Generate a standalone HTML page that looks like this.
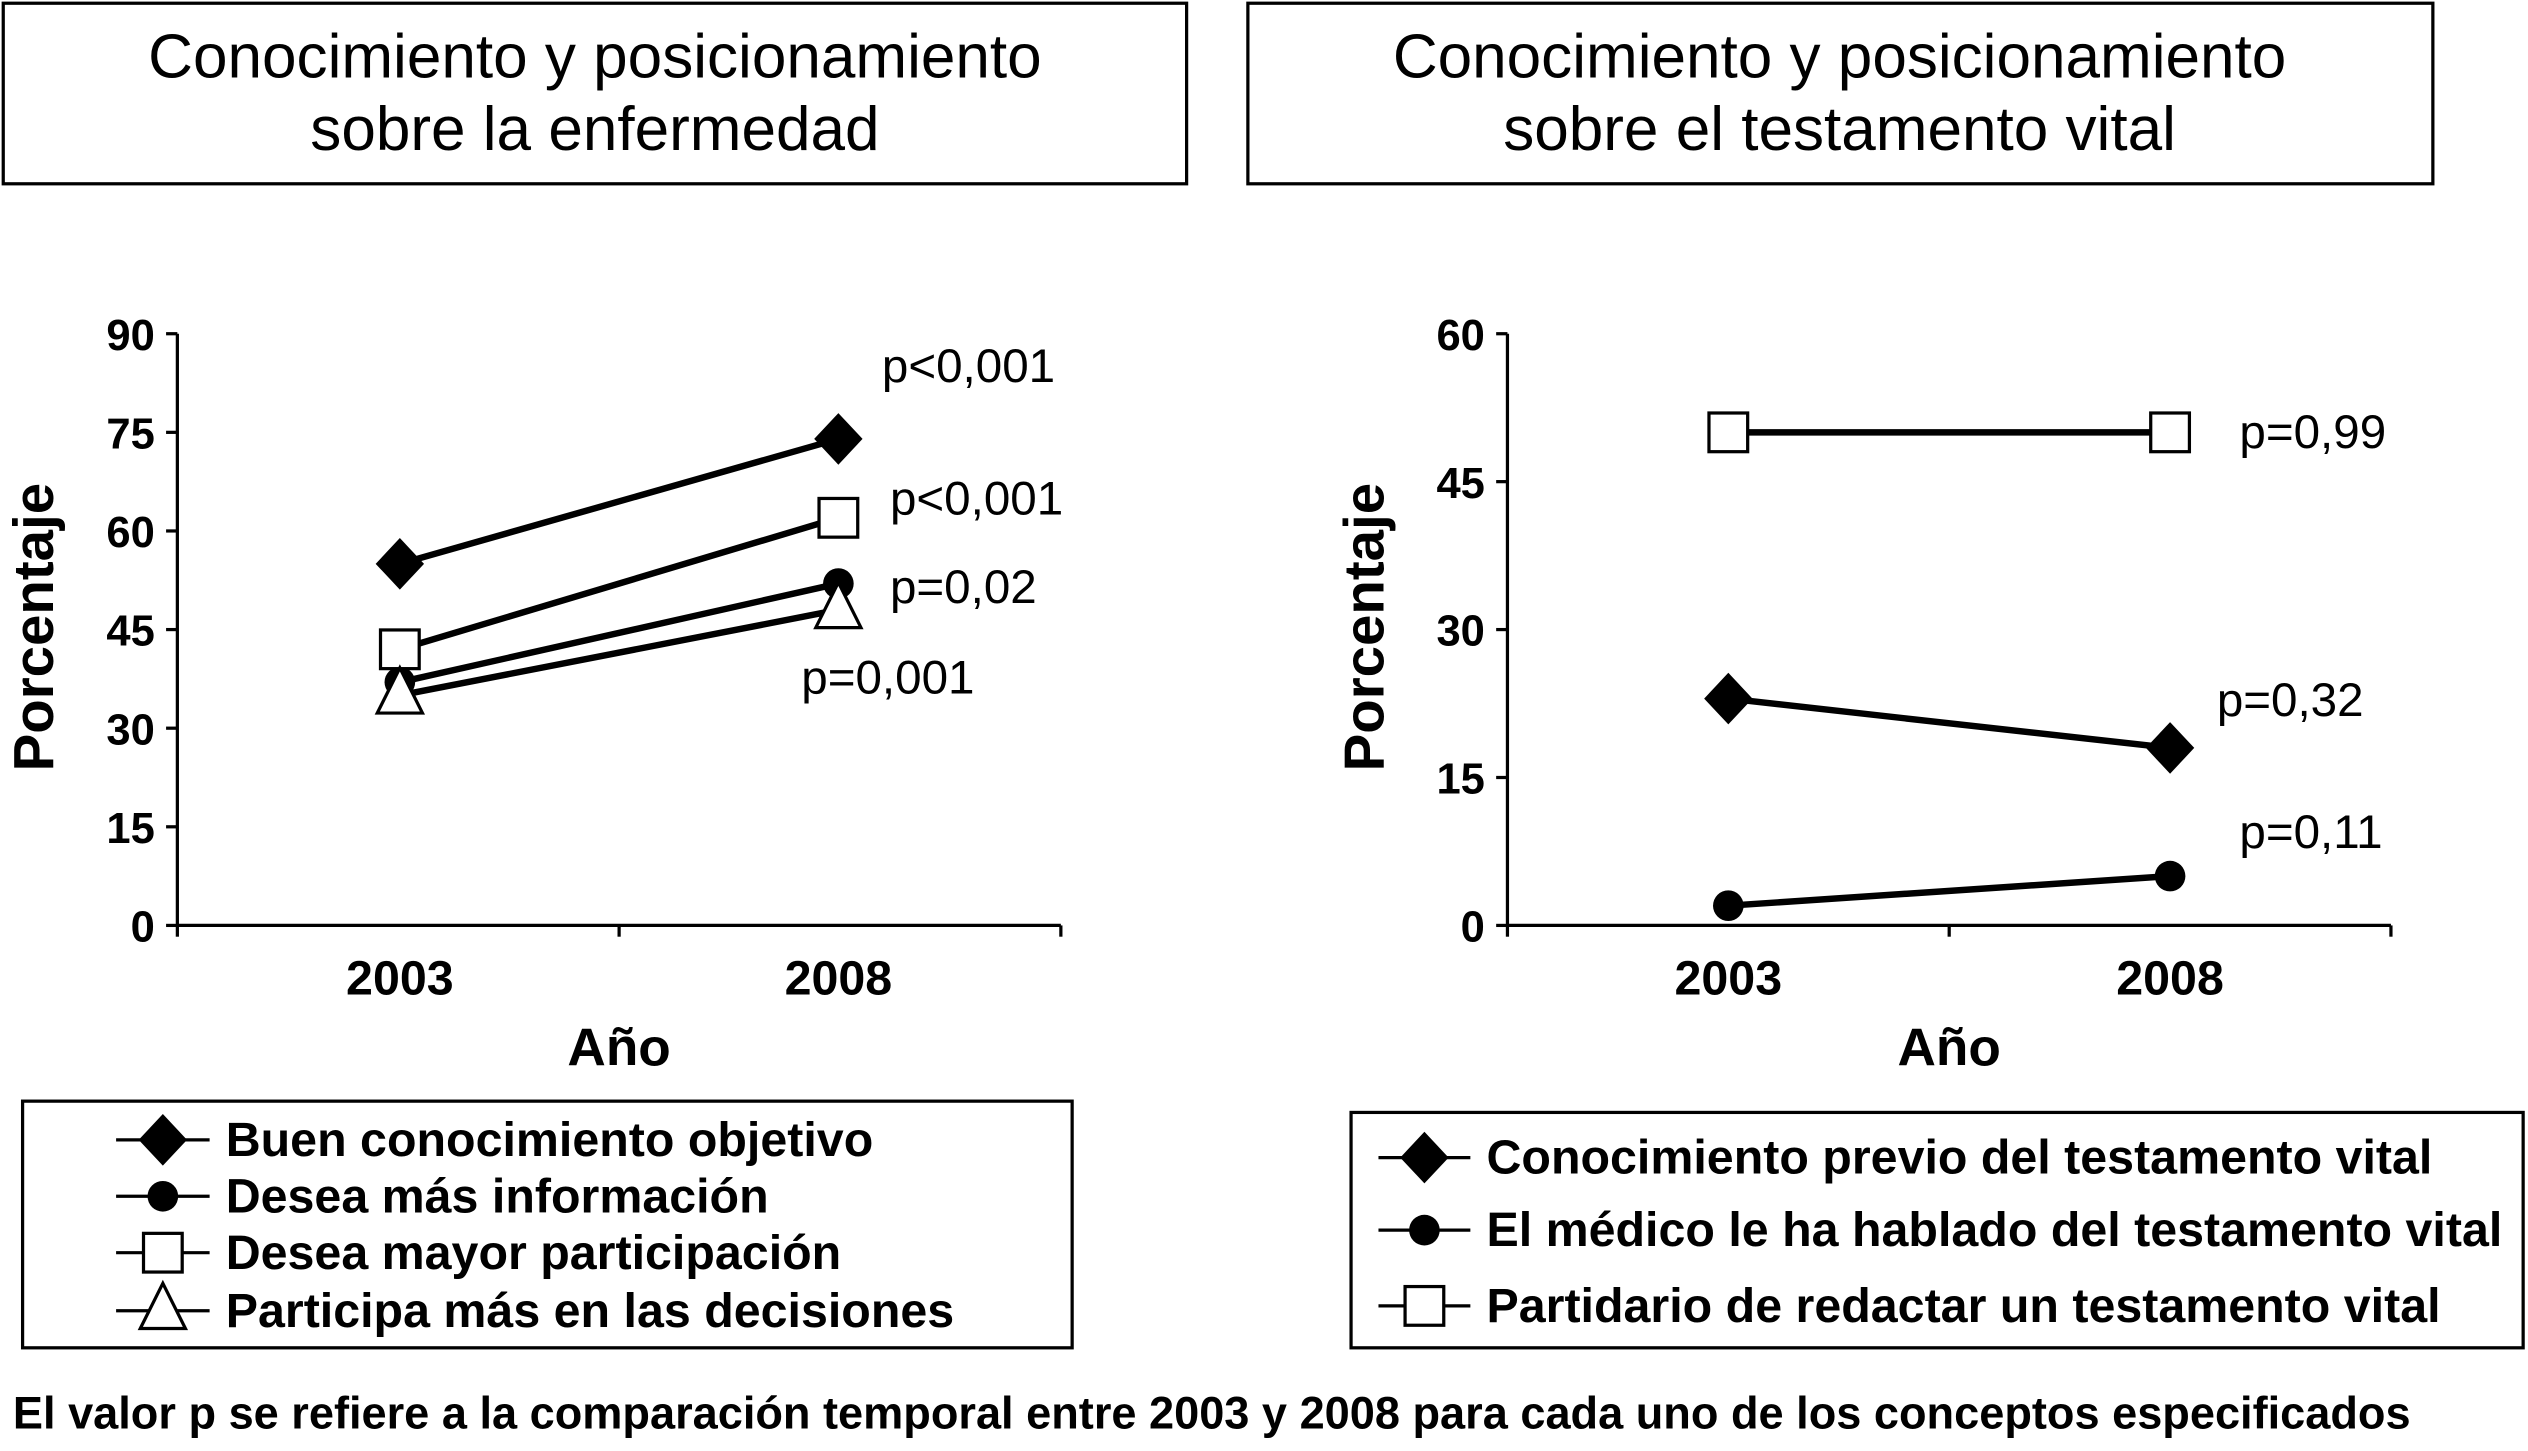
<!DOCTYPE html>
<html><head><meta charset="utf-8"><style>
html,body{margin:0;padding:0;background:#fff}
svg{display:block}
text{font-family:"Liberation Sans",Arial,sans-serif;fill:#000}
.b{font-weight:bold}
</style></head><body>
<svg id="s" width="2528" height="1451" viewBox="0 0 1568 900" xmlns="http://www.w3.org/2000/svg">
<rect x="2" y="2" width="734" height="112" fill="none" stroke="#000" stroke-width="2"/>
<text x="369" y="48" font-size="38.5" text-anchor="middle">Conocimiento y posicionamiento</text>
<text x="369" y="93" font-size="38.5" text-anchor="middle">sobre la enfermedad</text>
<rect x="774" y="2" width="735" height="112" fill="none" stroke="#000" stroke-width="2"/>
<text x="1141" y="48" font-size="38.5" text-anchor="middle">Conocimiento y posicionamiento</text>
<text x="1141" y="93" font-size="38.5" text-anchor="middle">sobre el testamento vital</text>
<g id="left"></g>
<g id="right"></g>
<rect x="14" y="683" width="651" height="153" fill="none" stroke="#000" stroke-width="2"/>
<rect x="838" y="690" width="727" height="146" fill="none" stroke="#000" stroke-width="2"/>
<text x="8" y="886" font-size="28" class="b">El valor p se refiere a la comparación temporal entre 2003 y 2008 para cada uno de los conceptos especificados</text>
</svg>
<script>
const NS="http://www.w3.org/2000/svg";
const years=["2003","2008"];
const leftTicks=[0,15,30,45,60,75,90];
const leftNames=["Buen conocimiento objetivo","Desea más información","Desea mayor participación","Participa más en las decisiones"];
const leftMarkers=["diamond","circle","square","triangle"];
const leftBuen=[55,74];
const leftInfo=[37,52];
const leftPart=[42,62];
const leftDecis=[35,48];
const leftP=["p<0,001","p=0,02","p<0,001","p=0,001"];
const rightTicks=[0,15,30,45,60];
const rightNames=["Conocimiento previo del testamento vital","El médico le ha hablado del testamento vital","Partidario de redactar un testamento vital"];
const rightMarkers=["diamond","circle","square"];
const rightCono=[23,18];
const rightMedico=[2,5];
const rightPartid=[50,50];
const rightP=["p=0,32","p=0,11","p=0,99"];

function el(parent,tag,attrs,txt){const e=document.createElementNS(NS,tag);for(const k in attrs)e.setAttribute(k,attrs[k]);if(txt!=null)e.textContent=txt;parent.appendChild(e);return e;}
function marker(g,type,x,y){
  let m;
  if(type==="diamond")m=el(g,"polygon",{points:`${x},${y-16} ${x+15},${y} ${x},${y+16} ${x-15},${y}`,fill:"#000"});
  else if(type==="circle")m=el(g,"circle",{cx:x,cy:y,r:9.5,fill:"#000"});
  else if(type==="square")m=el(g,"rect",{x:x-12,y:y-12,width:24,height:24,fill:"#fff",stroke:"#000","stroke-width":2});
  else m=el(g,"polygon",{points:`${x},${y-17} ${x+14},${y+11} ${x-14},${y+11}`,fill:"#fff",stroke:"#000","stroke-width":2});
  return m;
}
function chart(g,ax,series,markers,pLabels,pPos,ticks,ymax,catX,xEnd,midTick){
  const y0=574,y1=207;
  const Y=v=>y0-(v/ymax)*(y0-y1);
  const X=i=>catX[i];
  const yl=el(g,"line",{x1:ax,y1:y1,x2:ax,y2:y0,stroke:"#000","stroke-width":2});
  
  
  const xl=el(g,"line",{x1:ax,y1:y0,x2:xEnd,y2:y0,stroke:"#000","stroke-width":2});
  
  
  ticks.forEach(t=>{
    el(g,"line",{x1:ax-7,y1:Y(t),x2:ax,y2:Y(t),stroke:"#000","stroke-width":2});
    const tx=el(g,"text",{x:ax-14,y:Y(t)+10,"font-size":27,"text-anchor":"end",class:"b"},String(t));
    
    
  });
  [ax,midTick,xEnd].forEach(x=>el(g,"line",{x1:x,y1:y0,x2:x,y2:y0+7,stroke:"#000","stroke-width":2}));
  years.forEach((yr,i)=>{
    const tx=el(g,"text",{x:X(i),y:617,"font-size":30,"text-anchor":"middle",class:"b"},yr);
    
    
  });
  const xt=el(g,"text",{x:(ax+xEnd)/2,y:661,"font-size":33,"text-anchor":"middle",class:"b"},"Año");
  
  
  const yt=el(g,"text",{x:0,y:0,"font-size":35,"text-anchor":"middle",class:"b",transform:`translate(${ax-77},389) rotate(-90)`},"Porcentaje");
  
  
  series.forEach((s,k)=>{
    const ln=el(g,"line",{x1:X(0),y1:Y(s[0]),x2:X(1),y2:Y(s[1]),stroke:"#000","stroke-width":4});
    
    
  });
  series.forEach((s,k)=>{
    s.forEach((v,i)=>{
      const m=marker(g,markers[k],X(i),Y(v));
      
      
    });
    const p=el(g,"text",{x:pPos[k][0],y:pPos[k][1],"font-size":29.5},pLabels[k]);
    
    
  });
}
chart(document.getElementById("left"),110,[leftBuen,leftInfo,leftPart,leftDecis],leftMarkers,leftP,
  [[547,237],[552,374],[552,319],[497,430]],leftTicks,90,[248,520],658,384);
chart(document.getElementById("right"),935,[rightCono,rightMedico,rightPartid],rightMarkers,rightP,
  [[1375,444],[1389,526],[1389,278]],rightTicks,60,[1072,1346],1483,1209);
function legend(names,markers,x1,x2,xt,ys,fs){
  const s=document.getElementById("s");
  names.forEach((n,i)=>{
    const g=el(s,"g",{});
    
    
    el(g,"line",{x1:x1,y1:ys[i],x2:x2,y2:ys[i],stroke:"#000","stroke-width":2});
    marker(g,markers[i],(x1+x2)/2,ys[i]);
    el(g,"text",{x:xt,y:ys[i]+10,"font-size":fs,class:"b"},n);
  });
}
legend(leftNames,leftMarkers,72,130,140,[707,742,777,813],30);
legend(rightNames,rightMarkers,855,912,922,[718,763,810],30);
</script>
</body></html>
